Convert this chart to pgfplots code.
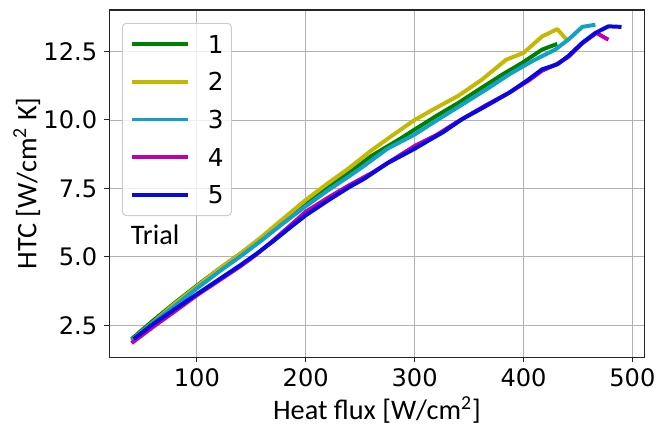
\documentclass[border=0pt]{standalone}
\usepackage{fontspec}
\setmainfont{DejaVu Sans}
\newfontfamily\carlito{Carlito}
\usepackage{pgfplots}
\pgfplotsset{compat=1.18}

\definecolor{trialA}{RGB}{0,128,0}
\definecolor{trialB}{RGB}{196,184,0}
\definecolor{trialC}{RGB}{18,160,196}
\definecolor{trialD}{RGB}{191,0,175}
\definecolor{trialE}{RGB}{8,8,225}

\begin{document}
\begin{tikzpicture}
\begin{axis}[
    scale only axis,
    width=270bp, height=175bp,
    xmin=19.4, xmax=511.4,
    ymin=1.34, ymax=14.02,
    xtick={100,200,...,500},
    ytick={2.5,5,7.5,10,12.5},
    yticklabel style={/pgf/number format/.cd, fixed, fixed zerofill, precision=1},
    /pgf/number format/assume math mode=true,
    tick label style={font=\fontsize{12.2}{14}\selectfont},
    grid=major,
    major grid style={color=black!30, line width=0.45bp},
    axis line style={black!85, line width=0.6bp},
    tick style={black!85, line width=0.5bp},
    tick align=outside, xtick pos=bottom, ytick pos=left,
    major tick length=2.5bp,
    xlabel={\carlito Heat flux [W/cm\textsuperscript{2}]},
    ylabel={\carlito HTC [W/cm\textsuperscript{2} K]},
    label style={font=\fontsize{14.3}{16}\selectfont},
    xlabel style={at={(axis description cs:0.5,-0.152)}, anchor=center},
    ylabel style={at={(axis description cs:-0.1537,0.5)}, anchor=center},
    legend style={at={(axis description cs:0.024,0.963)}, anchor=north west,
        draw=black!20, line width=0.5bp, rounded corners=2bp,
        fill=white, fill opacity=0.8, text opacity=1,
        font=\fontsize{12.5}{14}\selectfont,
        inner xsep=4bp, inner ysep=6bp,
        nodes={inner sep=0pt, text height=9bp, text depth=0pt},
        column sep=9bp, row sep=10bp},
    legend cell align=left,
    legend image code/.code={\draw[#1] (0bp,0bp) -- (28bp,0bp);},
    every axis plot/.append style={line width=2bp, line join=round},
]

% trial 1
\addplot[trialA] coordinates {
 (40,2.0) (60,2.68) (80,3.33) (100,3.95) (120,4.55) (140,5.12) (160,5.72)
 (180,6.35) (200,6.95) (220,7.55) (240,8.08) (260,8.68) (287,9.32)
 (300,9.65) (320,10.15) (340,10.62) (357,11.06) (381,11.67) (399,12.09)
 (417,12.57) (431,12.78)
};
% trial 2
\addplot[trialB] coordinates {
 (40,1.95) (60,2.62) (80,3.3) (100,3.92) (120,4.55) (140,5.12) (160,5.75)
 (180,6.42) (200,7.08) (220,7.68) (240,8.25) (260,8.88) (280,9.45)
 (300,10.0) (320,10.45) (340,10.88) (362,11.48) (384,12.2) (400,12.45)
 (417,13.05) (431,13.32) (441,12.87)
};
% trial 3
\addplot[trialC] coordinates {
 (40,1.95) (60,2.6) (80,3.22) (100,3.85) (120,4.45) (140,5.02) (160,5.62)
 (180,6.25) (200,6.85) (220,7.42) (240,7.95) (254,8.34) (275,8.95)
 (300,9.47) (320,9.98) (341,10.5) (366,11.12) (387,11.67) (408,12.15)
 (429,12.57) (441,12.93) (454,13.4) (466,13.48)
};
% trial 4
\addplot[trialD] coordinates {
 (40,1.85) (60,2.45) (80,3.02) (100,3.6) (120,4.13) (140,4.66) (155,5.1)
 (170,5.6) (185,6.12) (200,6.65) (220,7.15) (240,7.62) (260,8.05)
 (280,8.55) (300,9.05) (320,9.45) (340,9.95) (366,10.55) (387,11.0)
 (405,11.45) (417,11.8) (431,12.05) (441,12.3) (454,12.8) (467,13.18)
 (478,12.93)
};
% trial 5
\addplot[trialE] coordinates {
 (42,2.0) (60,2.55) (80,3.1) (100,3.64) (120,4.17) (140,4.7) (155,5.12)
 (170,5.57) (185,6.05) (200,6.52) (220,7.05) (240,7.55) (254,7.86)
 (275,8.42) (300,8.95) (315,9.3) (326,9.55) (344,10.04) (366,10.52)
 (387,11.0) (405,11.49) (417,11.85) (431,12.03) (441,12.33) (454,12.82)
 (466,13.18) (478,13.42) (490,13.4)
};
\legend{1,2,3,4,5}

\node[anchor=west, inner sep=0pt, font=\carlito\fontsize{14.3}{16}\selectfont]
    at (axis description cs:0.04,0.351) {Trial};

\coordinate (SW) at (rel axis cs:0,0);
\coordinate (NE) at (rel axis cs:1,1);
\end{axis}
\path ([shift={(-55bp,-37.5bp)}]SW) rectangle ([shift={(6bp,5bp)}]NE);
\end{tikzpicture}
\end{document}
